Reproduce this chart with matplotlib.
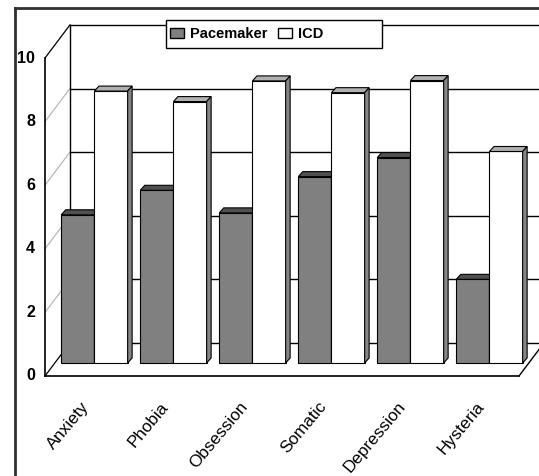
import matplotlib
matplotlib.use("Agg")
import matplotlib.pyplot as plt
from matplotlib.patches import Polygon, Patch, Rectangle

plt.rcParams['font.family'] = ['Liberation Sans', 'DejaVu Sans']

categories = ["Anxiety", "Phobia", "Obsession", "Somatic", "Depression", "Hysteria"]
pacemaker = [4.66, 5.43, 4.72, 5.86, 6.46, 2.63]
icd = [8.55, 8.22, 8.87, 8.50, 8.88, 6.65]
yticks = [0, 2, 4, 6, 8, 10]
series_names = ["Pacemaker", "ICD"]

# oblique projection: offset of the back wall and of the bar row (data units)
DX, DY = 0.316, 1.04
BX, BY = 0.126, 0.41
DDX, DDY = 0.057, 0.157
GAP, W = 0.08, 0.42

fig = plt.figure(figsize=(5.39, 4.76), dpi=100)
ax = fig.add_axes([0, 0, 1, 1])
ax.set_xlim(-0.5696, 6.2532)
ax.set_ylim(-3.1447, 11.824)
ax.axis('off')

n = len(categories)

# back wall gridlines and side wall
for t in yticks:
    ax.plot([DX, n + DX], [t + DY, t + DY], color='black', lw=1, zorder=1)
    c = 'black' if t in (0, 10) else '#b8b8b8'
    ax.plot([0, DX], [t, t + DY], color=c, lw=0.9, zorder=1)
ax.plot([DX, DX], [DY, 10 + DY], color='black', lw=1, zorder=1)
ax.plot([0, 0], [0, 10], color='black', lw=1.2, zorder=1)
# floor
ax.plot([0, n], [0, 0], color='black', lw=1.2, zorder=1)
ax.plot([n, n + DX], [0, DY], color='black', lw=1, zorder=1)

for t in yticks:
    ax.text(-0.125, t, str(t), ha='right', va='center', fontsize=11.5,
            fontweight='bold')


def column(x0, v, face, top, side, z):
    ax.bar(x0 + BX, v, width=W, bottom=BY, align='edge', color=face,
           edgecolor='black', linewidth=0.8, zorder=z)
    xl, xr, y0, y1 = x0 + BX, x0 + BX + W, BY, BY + v
    ax.add_patch(Polygon([(xl, y1), (xr, y1), (xr + DDX, y1 + DDY), (xl + DDX, y1 + DDY)],
                         closed=True, facecolor=top, edgecolor='black', lw=0.8, zorder=z))
    ax.add_patch(Polygon([(xr, y0), (xr + DDX, y0 + DDY), (xr + DDX, y1 + DDY), (xr, y1)],
                         closed=True, facecolor=side, edgecolor='black', lw=0.8, zorder=z))


for i in range(n):
    column(i + GAP, pacemaker[i], '#808080', '#505050', '#5a5a5a', 3 + 2 * i)
    column(i + GAP + W, icd[i], 'white', '#b0b0b0', '#858585', 4 + 2 * i)
    ax.text(i + 0.53, -0.88, categories[i], rotation=50, rotation_mode='anchor',
            ha='right', va='center', fontsize=12.3)

# outer chart border
ax.plot([-0.38, -0.38], [-4, 11.57], color='#303030', lw=2, zorder=0)
ax.plot([-0.38, 7], [11.57, 11.57], color='#303030', lw=2, zorder=0)

# legend box (wider than its entries)
W_FIG, H_FIG = 539, 476
fig.patches.append(Rectangle((166 / W_FIG, 1 - 48 / H_FIG), 216 / W_FIG, 28 / H_FIG,
                             transform=fig.transFigure, facecolor='white',
                             edgecolor='black', lw=1, zorder=5))
handles = [Patch(facecolor='#808080', edgecolor='black'),
           Patch(facecolor='white', edgecolor='black')]
leg = fig.legend(handles, series_names, ncol=2, loc='center left',
                 bbox_to_anchor=(170 / W_FIG, 1 - 34 / H_FIG), frameon=False,
                 prop={'weight': 'bold', 'size': 10.5},
                 handlelength=0.95, handleheight=0.75, handletextpad=0.4,
                 columnspacing=0.75, borderpad=0.0, borderaxespad=0.0)
leg.set_zorder(6)

fig.savefig('out.png', dpi=100)
